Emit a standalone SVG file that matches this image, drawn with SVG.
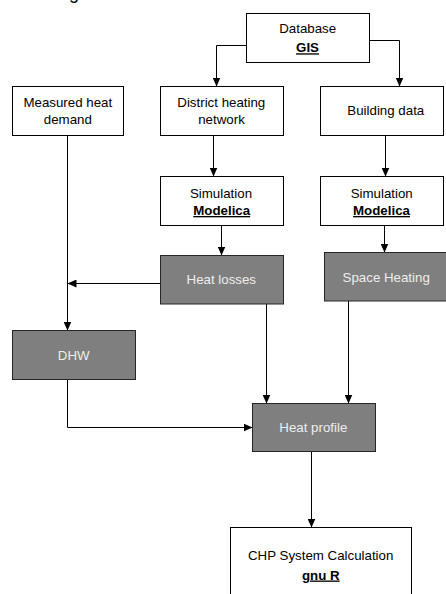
<svg xmlns="http://www.w3.org/2000/svg" width="446" height="594" viewBox="0 0 446 594">
<defs>
<style>
.w{fill:#ffffff;stroke:#000000;stroke-width:1}
.g{fill:#7f7f7f;stroke:#262626;stroke-width:1}
text{font-family:"Liberation Sans",Arial,sans-serif;font-size:13.3px;text-anchor:middle}
.tb{fill:#000000}
.tl{fill:#eeeeee}
.b{font-weight:bold;text-decoration:underline}
.c{fill:none;stroke:#000000;stroke-width:1}
</style>
<marker id="ah" viewBox="0 0 9 8" refX="9" refY="4" markerWidth="9" markerHeight="8" markerUnits="userSpaceOnUse" orient="auto">
<path d="M0,0 L9,4 L0,8 z" fill="#000000"/>
</marker>
</defs>
<rect width="446" height="594" fill="#ffffff"/>
<text x="74" y="-1" style="font-size:18px;text-anchor:middle" class="tb">g</text>

<g id="connectors">
<path class="c" d="M246.5,45.5 H216.5 V86.5" marker-end="url(#ah)"/>
<path class="c" d="M369.5,40.5 H399.5 V86.5" marker-end="url(#ah)"/>
<path class="c" d="M213.5,135.5 V176.5" marker-end="url(#ah)"/>
<path class="c" d="M385.5,135.5 V176.5" marker-end="url(#ah)"/>
<path class="c" d="M221.5,225.5 V255.5" marker-end="url(#ah)"/>
<path class="c" d="M384.5,225.5 V252.5" marker-end="url(#ah)"/>
<path class="c" d="M67.5,135.5 V330.5" marker-end="url(#ah)"/>
<path class="c" d="M160.5,283.5 H67.5" marker-end="url(#ah)"/>
<path class="c" d="M266.5,304 V403.5" marker-end="url(#ah)"/>
<path class="c" d="M348.5,301 V403.5" marker-end="url(#ah)"/>
<path class="c" d="M67.5,379.5 V427.5 H252.5" marker-end="url(#ah)"/>
<path class="c" d="M311.5,451.5 V527.5" marker-end="url(#ah)"/>
</g>

<g id="database">
<rect class="w" x="246.5" y="13.5" width="123" height="49"/>
<text class="tb" x="307.7" y="33.3">Database</text>
<text class="tb b" x="307.5" y="52.3">GIS</text>
</g>
<g id="measured">
<rect class="w" x="12.5" y="86.5" width="111" height="49"/>
<text class="tb" x="67.8" y="107.3">Measured heat</text>
<text class="tb" x="67.8" y="124.3">demand</text>
</g>
<g id="district">
<rect class="w" x="160.5" y="86.5" width="123" height="49"/>
<text class="tb" x="221.3" y="107.3">District heating</text>
<text class="tb" x="221.5" y="124.3">network</text>
</g>
<g id="building">
<rect class="w" x="320.5" y="86.5" width="123" height="49"/>
<text class="tb" x="385.8" y="115.3">Building data</text>
</g>
<g id="sim-left">
<rect class="w" x="160.5" y="176.5" width="123" height="49"/>
<text class="tb" x="221" y="197.7">Simulation</text>
<text class="tb b" x="221.7" y="215">Modelica</text>
</g>
<g id="sim-right">
<rect class="w" x="320.5" y="176.5" width="123" height="49"/>
<text class="tb" x="381.7" y="197.7">Simulation</text>
<text class="tb b" x="381.5" y="215">Modelica</text>
</g>
<g id="heat-losses">
<rect class="g" x="160.5" y="255.5" width="123" height="48.5"/>
<text class="tl" x="221.3" y="284.3">Heat losses</text>
</g>
<g id="space-heating">
<rect class="g" x="324.5" y="252.5" width="125" height="48.5"/>
<text class="tl" x="386.2" y="282.3">Space Heating</text>
</g>
<g id="dhw">
<rect class="g" x="12.5" y="330.5" width="123" height="49"/>
<text class="tl" x="73.7" y="360">DHW</text>
</g>
<g id="heat-profile">
<rect class="g" x="252.5" y="403.5" width="123" height="48"/>
<text class="tl" x="313.3" y="432.3">Heat profile</text>
</g>
<g id="chp">
<rect class="w" x="230.5" y="527.5" width="181" height="80"/>
<text class="tb" x="320.7" y="560">CHP System Calculation</text>
<text class="tb b" x="320.8" y="579.5">gnu R</text>
</g>
</svg>
